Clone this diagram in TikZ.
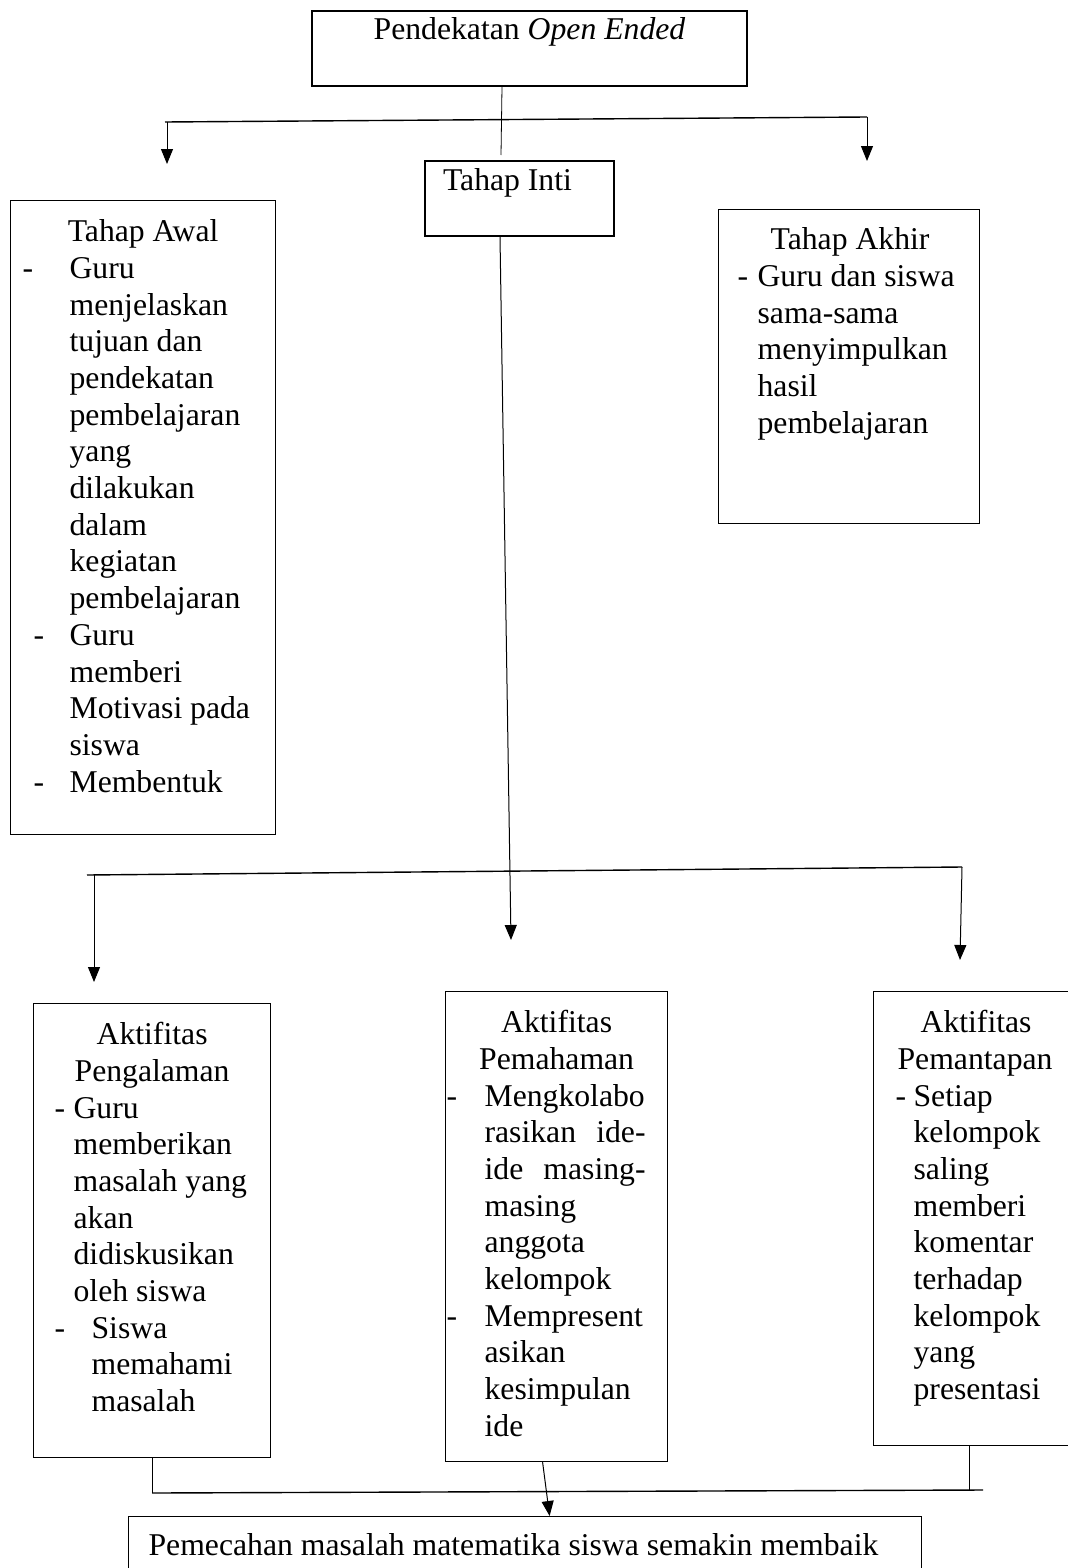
\documentclass[tikz,border=0pt]{standalone}
\usepackage{fontspec}
\setmainfont{Liberation Serif}
\usetikzlibrary{arrows.meta,calc}

\newlength\pxu
\setlength\pxu{0.5pt}
\newcommand{\boxtext}[3]{\parbox[c][#2\pxu][t]{#1\pxu}{#3}}
\newcommand{\topline}[1]{\rule{0pt}{#1\pxu}}
\newcommand{\ctline}[1]{\makebox[\linewidth]{#1}\par}
\newcommand{\txline}[2]{\makebox[\linewidth][l]{\hspace*{#1\pxu}#2}\par}
\newcommand{\dsline}[3]{\makebox[\linewidth][l]{\hspace*{#1\pxu}\makebox[#2\pxu][l]{-}#3}\par}

\begin{document}
\begin{tikzpicture}[x=0.5pt, y=-0.5pt,
    box/.style={rectangle, draw, inner sep=0pt, anchor=north west, line width=0.6pt,
        font=\fontsize{15.85pt}{18.35pt}\selectfont},
    headbox/.style={box, line width=1pt},
    arrow/.style={-{Triangle[length=7.5pt,width=6pt]}, line width=0.5pt},
    bar/.style={line width=0.7pt}
]
    \useasboundingbox[fill=white] (0,0) rectangle (1067,1568);

    \node[headbox] (top) at (311,10) {\boxtext{435}{75}{%
        \ctline{\topline{29}Pendekatan \textit{Open Ended}}}};
    \node[headbox] (inti) at (424,160) {\boxtext{189}{75}{%
        \txline{18}{\topline{30}Tahap Inti}}};
    \node[box] (awal) at (10,200) {\boxtext{265}{634}{%
        \ctline{\topline{41}Tahap Awal}
        \dsline{12}{47}{Guru}
        \txline{59}{menjelaskan}
        \txline{59}{tujuan dan}
        \txline{59}{pendekatan}
        \txline{59}{pembelajaran}
        \txline{59}{yang}
        \txline{59}{dilakukan}
        \txline{59}{dalam}
        \txline{59}{kegiatan}
        \txline{59}{pembelajaran}
        \dsline{23}{36}{Guru}
        \txline{59}{memberi}
        \txline{59}{Motivasi pada}
        \txline{59}{siswa}
        \dsline{23}{36}{Membentuk}}};
    \node[box] (akhir) at (718,209) {\boxtext{261}{314}{%
        \txline{52}{\topline{40}Tahap Akhir}
        \dsline{19}{20}{Guru dan siswa}
        \txline{39}{sama-sama}
        \txline{39}{menyimpulkan}
        \txline{39}{hasil}
        \txline{39}{pembelajaran}}};

    \node[box] (peng) at (33,1003) {\boxtext{237}{454}{%
        \ctline{\topline{41}Aktifitas}
        \ctline{Pengalaman}
        \dsline{21}{19}{Guru}
        \txline{40}{memberikan}
        \txline{40}{masalah yang}
        \txline{40}{akan}
        \txline{40}{didiskusikan}
        \txline{40}{oleh siswa}
        \dsline{21}{37}{Siswa}
        \txline{58}{memahami}
        \txline{58}{masalah}}};
    \node[box] (paham) at (445,991) {\boxtext{222}{470}{%
        \ctline{\topline{41}Aktifitas}
        \ctline{Pemahaman}
        \dsline{1}{38}{Mengkolabo}
        \txline{39}{\makebox[161\pxu][s]{rasikan ide-}}
        \txline{39}{\makebox[161\pxu][s]{ide masing-}}
        \txline{39}{masing}
        \txline{39}{anggota}
        \txline{39}{kelompok}
        \dsline{1}{38}{Mempresent}
        \txline{39}{asikan}
        \txline{39}{kesimpulan}
        \txline{39}{ide}}};
    \node[box] (mant) at (873,991) {\boxtext{206}{454}{%
        \txline{47}{\topline{41}Aktifitas}
        \txline{24}{Pemantapan}
        \dsline{22}{18}{Setiap}
        \txline{40}{kelompok}
        \txline{40}{saling}
        \txline{40}{memberi}
        \txline{40}{komentar}
        \txline{40}{terhadap}
        \txline{40}{kelompok}
        \txline{40}{yang}
        \txline{40}{presentasi}}};
    \node[box] (hasil) at (128,1516) {\boxtext{793}{60}{%
        \txline{20}{\topline{39}Pemecahan masalah matematika siswa semakin membaik}}};

    \coordinate (stem) at (501,155);
    \coordinate (barL) at (165,122);
    \coordinate (barR) at (867,117);
    \coordinate (awalIn) at (167,164);
    \coordinate (akhirIn) at (867,161);
    \draw ($(top.south)+(-27.5,0)$) -- (stem);
    \draw[bar] (barL) -- (barR);
    \draw[arrow] (awalIn |- barL) -- (awalIn);
    \draw[arrow] (barR) -- (akhirIn);

    \coordinate (midL) at (87,875);
    \coordinate (midR) at (962,867);
    \coordinate (pengIn) at (94,982);
    \coordinate (pahamIn) at (511,940);
    \coordinate (mantIn) at (960,960);
    \draw[arrow] ($(inti.south)+(-19.5,0)$) -- (pahamIn);
    \draw[bar] (midL) -- (midR);
    \draw[arrow] (pengIn |- midL) -- (pengIn);
    \draw[arrow] (midR) -- (mantIn);

    \coordinate (baseL) at (152,1493);
    \coordinate (baseR) at (983,1490);
    \draw (peng.south) -- (peng.south |- baseL);
    \draw ($(mant.south)+(-7,0)$) -- +(0,45);
    \draw[bar] (baseL) -- (baseR);
    \draw[arrow] ($(paham.south)+(-14,0)$) -- ($(hasil.north)+(24.5,0)$);
\end{tikzpicture}
\end{document}
